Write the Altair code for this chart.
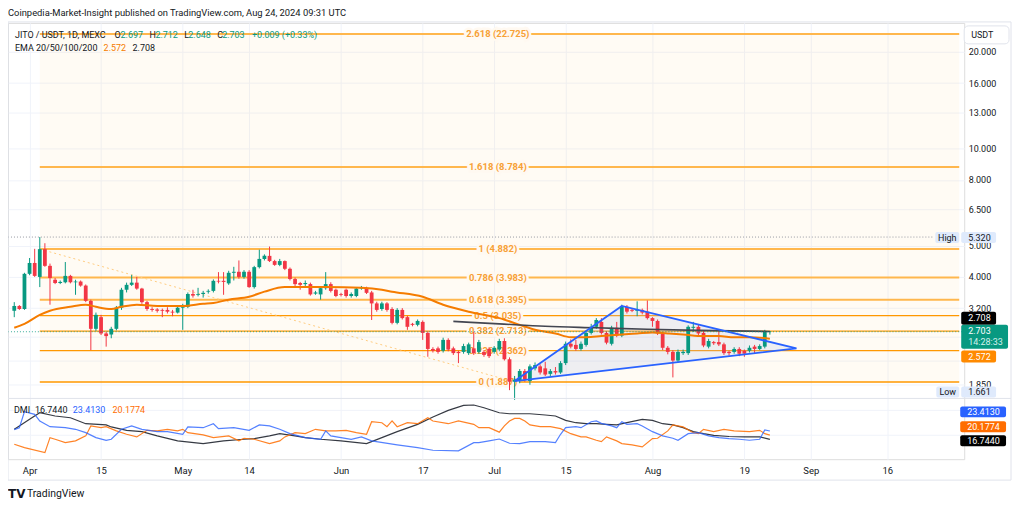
import altair as alt
import pandas as pd

# ---------------- data ----------------
START = "2024-03-29"
opens = [3.14, 3.25, 3.18, 4.09, 4.42, 4.00, 4.88, 4.33, 3.92, 3.83,
         3.85, 4.03, 3.85, 3.87, 3.76, 3.37, 2.76, 3.00, 2.67, 2.65,
         2.76, 3.21, 3.65, 3.78, 3.84, 3.68, 3.34, 3.18, 3.17, 3.16,
         3.16, 3.12, 3.10, 3.21, 3.23, 3.54, 3.52, 3.54, 3.60, 3.62,
         3.89, 3.89, 3.82, 4.12, 4.15, 4.00, 4.15, 3.72, 4.29, 4.55,
         4.65, 4.48, 4.36, 4.48, 4.24, 3.94, 3.83, 3.80, 3.80, 3.55,
         3.53, 3.69, 3.80, 3.65, 3.54, 3.65, 3.49, 3.49, 3.68, 3.70,
         3.58, 3.31, 3.18, 3.31, 3.18, 2.88, 3.16, 3.00, 2.86, 2.84,
         2.90, 2.68, 2.39, 2.40, 2.36, 2.55, 2.40, 2.34, 2.34, 2.32,
         2.40, 2.34, 2.34, 2.39, 2.34, 2.38, 2.53, 2.22, 1.89, 1.90,
         2.04, 1.90, 2.08, 2.11, 2.08, 2.00, 2.04, 2.02, 2.16, 2.48,
         2.46, 2.39, 2.46, 2.68, 2.80, 2.90, 2.68, 2.48, 2.78, 2.63,
         3.23, 3.16, 3.14, 3.16, 3.12, 2.98, 2.92, 2.67, 2.41, 2.34,
         2.20, 2.32, 2.32, 2.78, 2.80, 2.68, 2.43, 2.51, 2.51, 2.47,
         2.34, 2.34, 2.39, 2.36, 2.36, 2.43, 2.39, 2.43, 2.697]
highs = [3.34, 3.27, 4.12, 4.58, 4.89, 5.32, 5.09, 4.40, 3.97, 3.90,
         4.45, 4.06, 3.92, 3.90, 3.79, 3.40, 3.10, 3.05, 2.70, 2.80,
         3.25, 3.70, 3.84, 4.06, 4.00, 3.70, 3.37, 3.22, 3.20, 3.19,
         3.22, 3.16, 3.24, 3.30, 3.58, 3.65, 3.70, 3.62, 3.66, 3.93,
         4.14, 4.14, 4.18, 4.30, 4.50, 4.20, 4.20, 4.33, 4.86, 4.70,
         4.97, 4.52, 4.55, 4.50, 4.28, 3.98, 3.86, 3.90, 3.84, 3.62,
         3.72, 4.14, 3.85, 3.68, 3.57, 3.68, 3.58, 3.72, 3.75, 3.73,
         3.62, 3.35, 3.35, 3.34, 3.22, 3.20, 3.20, 3.03, 2.88, 2.95,
         2.93, 2.71, 2.42, 2.43, 2.59, 2.58, 2.43, 2.36, 2.48, 2.50,
         2.70, 2.55, 2.37, 2.42, 2.44, 2.57, 2.58, 2.25, 1.97, 2.07,
         2.07, 2.14, 2.17, 2.14, 2.18, 2.07, 2.10, 2.19, 2.52, 2.56,
         2.55, 2.52, 2.72, 2.86, 2.98, 2.98, 2.71, 2.82, 2.90, 3.28,
         3.27, 3.20, 3.36, 3.19, 3.38, 3.00, 2.95, 2.70, 2.44, 2.37,
         2.38, 2.38, 2.83, 2.90, 2.84, 2.72, 2.57, 2.53, 2.72, 2.50,
         2.36, 2.42, 2.42, 2.38, 2.45, 2.46, 2.47, 2.74, 2.712]
lows = [3.00, 3.16, 3.16, 4.05, 4.00, 3.72, 4.30, 3.28, 3.80, 3.80,
        3.82, 3.82, 3.52, 3.73, 3.34, 2.37, 2.72, 2.64, 2.43, 2.58,
        2.73, 3.16, 3.58, 3.75, 3.65, 3.30, 3.14, 3.12, 3.10, 3.00,
        3.08, 3.02, 3.08, 2.74, 3.20, 3.45, 3.48, 3.45, 3.55, 3.58,
        3.82, 3.52, 3.78, 3.90, 3.95, 3.95, 3.70, 3.68, 4.25, 4.50,
        4.45, 4.33, 4.32, 4.20, 3.90, 3.75, 3.65, 3.75, 3.50, 3.52,
        3.40, 3.65, 3.58, 3.46, 3.48, 3.45, 3.45, 3.46, 3.65, 3.54,
        2.94, 3.12, 3.14, 3.12, 2.85, 2.85, 2.95, 2.74, 2.81, 2.81,
        2.55, 2.26, 2.33, 2.31, 2.33, 2.35, 2.29, 2.16, 2.31, 2.29,
        2.29, 2.31, 2.26, 2.24, 2.31, 2.35, 2.20, 1.78, 1.661, 1.87,
        1.89, 1.85, 2.05, 1.99, 1.97, 1.97, 1.99, 2.00, 2.13, 2.40,
        2.36, 2.36, 2.43, 2.65, 2.76, 2.65, 2.47, 2.45, 2.60, 2.60,
        3.08, 3.11, 3.02, 3.06, 2.95, 2.80, 2.64, 2.37, 2.30, 1.95,
        2.17, 2.29, 2.29, 2.70, 2.64, 2.42, 2.40, 2.46, 2.44, 2.29,
        2.28, 2.31, 2.27, 2.26, 2.33, 2.32, 2.37, 2.40, 2.648]
closes = [3.25, 3.18, 4.09, 4.42, 4.03, 4.88, 4.33, 3.97, 3.83, 3.86,
          4.03, 3.85, 3.87, 3.76, 3.37, 2.76, 3.05, 2.67, 2.62, 2.76,
          3.21, 3.65, 3.78, 3.84, 3.68, 3.34, 3.18, 3.16, 3.14, 3.14,
          3.12, 3.10, 3.21, 3.23, 3.54, 3.50, 3.54, 3.57, 3.62, 3.89,
          3.87, 3.86, 4.12, 4.15, 4.00, 4.15, 3.72, 4.29, 4.55, 4.65,
          4.48, 4.36, 4.48, 4.24, 3.94, 3.80, 3.78, 3.83, 3.53, 3.58,
          3.69, 3.80, 3.62, 3.49, 3.52, 3.49, 3.54, 3.68, 3.70, 3.57,
          3.31, 3.16, 3.31, 3.16, 2.88, 3.16, 2.98, 2.80, 2.84, 2.92,
          2.68, 2.39, 2.36, 2.34, 2.55, 2.38, 2.32, 2.32, 2.44, 2.47,
          2.32, 2.51, 2.29, 2.27, 2.41, 2.53, 2.22, 1.89, 1.92, 2.04,
          1.92, 2.11, 2.13, 2.02, 1.99, 2.04, 2.02, 2.16, 2.48, 2.43,
          2.39, 2.48, 2.68, 2.80, 2.94, 2.68, 2.50, 2.78, 2.63, 3.25,
          3.12, 3.14, 3.16, 3.10, 2.98, 2.92, 2.67, 2.41, 2.34, 2.20,
          2.34, 2.34, 2.80, 2.80, 2.67, 2.45, 2.53, 2.49, 2.47, 2.32,
          2.32, 2.39, 2.31, 2.31, 2.41, 2.39, 2.44, 2.697, 2.703]

# EMA lines (day offset from START, price)
ema20_day = [0, 2, 5, 7, 11, 14, 16, 19, 21, 24, 28, 33, 37, 39, 42, 46, 49, 53, 55, 61,
             68, 72, 74, 80, 84, 89, 95, 99, 102, 106, 109, 112, 115, 119, 122, 125, 128,
             131, 135, 138, 141, 144, 148]
ema20_val = [2.78, 2.86, 3.05, 3.14, 3.23, 3.28, 3.23, 3.18, 3.23, 3.28, 3.25, 3.25, 3.30,
             3.32, 3.40, 3.47, 3.60, 3.72, 3.72, 3.72, 3.70, 3.65, 3.60, 3.47, 3.28, 3.12,
             2.98, 2.84, 2.74, 2.67, 2.60, 2.60, 2.62, 2.65, 2.67, 2.69, 2.67, 2.65, 2.62,
             2.62, 2.60, 2.60, 2.572]
ema50_day = [86, 95, 104, 114, 124, 134, 148]
ema50_val = [2.91, 2.86, 2.81, 2.78, 2.75, 2.73, 2.708]

# DMI
pdi_day = [0, 1, 2, 4, 5, 7, 10, 12, 14, 16, 18, 19, 21, 23, 25, 28, 30, 33, 34, 37, 39,
           40, 43, 46, 48, 50, 52, 54, 57, 60, 61, 62, 66, 68, 70, 75, 79, 82, 87, 90, 91,
           93, 95, 97, 99, 101, 104, 106, 107, 108, 110, 111, 113, 114, 115, 117, 118, 119,
           120, 122, 123, 125, 127, 129, 130, 132, 134, 136, 138, 140, 142, 144, 146, 147, 148]
pdi_val = [24.5, 26.1, 39.0, 36.8, 31.4, 26.9, 26.1, 24.8, 22.1, 18.1, 16.0, 16.8, 24.8,
           27.5, 24.8, 22.9, 22.9, 20.8, 26.7, 26.1, 29.3, 25.3, 26.1, 24.0, 28.3, 27.5,
           24.8, 21.3, 18.1, 16.8, 23.5, 19.5, 16.8, 18.7, 15.5, 12.3, 10.1, 8.0, 7.5, 14.1,
           14.1, 15.5, 17.0, 13.6, 13.3, 14.9, 14.9, 14.1, 20.8, 26.1, 26.9, 26.1, 30.9,
           31.5, 29.6, 27.5, 26.1, 30.9, 28.8, 29.3, 27.5, 22.9, 19.5, 17.6, 16.0, 21.3,
           22.1, 19.5, 18.1, 17.3, 16.8, 16.0, 16.8, 24.3, 23.413]
mdi_day = [0, 2, 6, 7, 8, 10, 12, 14, 15, 17, 18, 20, 22, 24, 26, 28, 30, 32, 33, 34, 37,
           39, 42, 44, 45, 47, 50, 52, 53, 55, 57, 59, 61, 63, 65, 67, 69, 70, 72, 73, 74,
           75, 77, 79, 81, 82, 85, 87, 90, 91, 93, 95, 96, 97, 98, 99, 100, 101, 103, 105,
           107, 109, 111, 112, 114, 115, 116, 118, 119, 121, 123, 125, 126, 128, 129, 131,
           133, 134, 135, 137, 139, 141, 144, 146, 147, 148]
mdi_val = [12.8, 10.1, 6.1, 18.1, 16.8, 14.1, 15.5, 19.5, 27.5, 26.1, 26.9, 23.5, 20.8,
           18.7, 24.0, 23.5, 24.8, 23.5, 24.8, 22.1, 20.3, 18.1, 19.5, 15.5, 17.6, 16.8,
           13.3, 15.5, 18.7, 22.1, 21.3, 24.8, 23.5, 23.5, 24.0, 22.1, 20.8, 30.9, 30.1,
           26.9, 31.5, 26.9, 30.1, 29.3, 34.1, 31.5, 29.3, 31.5, 28.8, 26.1, 26.1, 22.5,
           27.5, 31.5, 33.6, 33.6, 31.5, 28.3, 26.9, 26.9, 25.3, 21.3, 18.7, 18.7, 16.0,
           14.9, 18.7, 15.5, 13.3, 12.3, 10.7, 17.3, 17.6, 23.5, 28.3, 26.7, 22.1, 21.3,
           24.8, 22.9, 24.8, 23.5, 22.9, 24.0, 21.3, 20.1774]
adx_day = [0, 1, 3, 5, 8, 11, 14, 18, 19, 22, 25, 28, 32, 37, 41, 45, 47, 50, 52, 55, 57,
           60, 64, 69, 72, 75, 79, 82, 85, 88, 90, 92, 95, 97, 101, 104, 106, 108, 110, 112,
           114, 116, 118, 120, 123, 125, 127, 129, 131, 133, 135, 137, 140, 143, 146, 148]
adx_val = [24.8, 27.5, 32.8, 38.1, 35.5, 34.1, 29.3, 28.3, 26.7, 24.0, 22.9, 19.5, 15.5,
           13.3, 15.5, 16.8, 17.3, 19.5, 21.3, 19.5, 18.1, 16.8, 15.5, 13.3, 18.1, 22.9,
           28.8, 34.7, 40.0, 44.0, 44.3, 42.1, 38.1, 37.3, 37.3, 36.3, 35.5, 32.0, 30.1,
           29.3, 29.3, 28.8, 28.3, 30.1, 32.8, 32.0, 29.3, 28.3, 26.1, 22.9, 21.3, 20.0,
           19.0, 18.7, 18.7, 16.744]

# Fibonacci retracement
fib_text = ["2.618 (22.725)", "1.618 (8.784)", "1 (4.882)", "0.786 (3.983)",
            "0.618 (3.395)", "0.5 (3.035)", "0.382 (2.713)", "0.236 (2.362)", "0 (1.887)"]
fib_price = [22.725, 8.784, 4.882, 3.983, 3.395, 3.035, 2.713, 2.362, 1.887]
fib_strong = [False, False, False, False, False, True, True, True, True]
fib_start = "2024-04-03T00:00"
fib_end = "2024-09-30T02:00"
fib_label_at = "2024-07-01T17:00"
trend_dates = ["2024-04-03T00:00", "2024-07-05T00:00"]
trend_price = [4.882, 1.887]

# Triangle pattern
tri_dates = ["2024-07-05T00:00", "2024-07-26T00:00", "2024-08-29T05:00"]
tri_top = [1.90, 3.25, 2.40]
tri_bottom = [1.90, 2.08, 2.40]

high_price = 5.320
low_price = 1.661
last_price = 2.703

price_ticks = [1.85, 2.2, 2.6, 3.2, 4, 5, 6.5, 8, 10, 13, 16, 20]
hidden_ticks = [2.2, 2.6]  # covered by the price labels in the reference
date_ticks = [(4, 1), (4, 15), (5, 1), (5, 14), (6, 1), (6, 17), (7, 1), (7, 15),
              (8, 1), (8, 19), (9, 1), (9, 16)]

# ---------------- styling ----------------
FONT = "Roboto"
TXT = "#131722"
GREEN = "#089981"
RED = "#f23645"
GRID = "#f0f3fa"
FIBL = "#ffb74d"
FIBD = "#ff9800"
CREAM = "#fff9f1"
W, H = 960, 438

start = pd.Timestamp(START)
def days_to_dates(days):
    return [start + pd.Timedelta(days=d) for d in days]

def to_dt(s):
    return pd.to_datetime(s, format="ISO8601")

xscale = alt.Scale(domain=[alt.DateTime(year=2024, month=3, date=28, hours=18),
                           alt.DateTime(year=2024, month=9, date=30, hours=2)])
xaxis = alt.Axis(values=[alt.DateTime(year=2024, month=m, date=d) for m, d in date_ticks],
                 labelExpr="date(datum.value) == 1 ? timeFormat(datum.value, '%b') : timeFormat(datum.value, '%-d')",
                 grid=True, gridColor=GRID, domain=False, ticks=False, labelPadding=6,
                 labelFontSize=9.5, labelColor=TXT, labelFont=FONT, title=None)
hide_expr = " || ".join(f"abs(datum.value - {v}) < 0.001" for v in hidden_ticks)
yscale = alt.Scale(type="log", domain=[1.0865, 24.60], nice=False)
yaxis = alt.Axis(orient="right", values=price_ticks,
                 labelExpr=f"({hide_expr}) ? '' : format(datum.value, '.3f')",
                 grid=True, gridColor=GRID,
                 domain=False, ticks=False, labelPadding=4, labelFontSize=9,
                 labelColor=TXT, labelFont=FONT, title=None)
dscale = alt.Scale(domain=[0.8, 351.2], nice=False, zero=False)

def X(f):
    return alt.X(f, type="temporal", scale=xscale, axis=xaxis)
def Y(f):
    return alt.Y(f, type="quantitative", scale=yscale, axis=yaxis)
def YD(f):
    return alt.Y(f, type="quantitative", scale=dscale, axis=None)

# ---------------- price pane ----------------
candles = pd.DataFrame({"date": days_to_dates(range(len(opens))), "open": opens,
                        "high": highs, "low": lows, "close": closes})
candles["dir"] = ["up" if c >= o else "down" for o, c in zip(opens, closes)]
cscale = alt.Color("dir:N", scale=alt.Scale(domain=["up", "down"], range=[GREEN, RED]), legend=None)

fib = pd.DataFrame({"text": fib_text, "p": fib_price, "strong": fib_strong})
fib["x"] = to_dt(fib_start)
fib["x2"] = to_dt(fib_end)
fib["xl"] = to_dt(fib_label_at)
fib_bg = pd.DataFrame({"x": [to_dt(fib_start)], "x2": [to_dt(fib_end)],
                       "p": [min(fib_price)], "p2": [max(fib_price)]})

bg = alt.Chart(fib_bg).mark_rect(color="#ff9800", opacity=0.045).encode(
    x=X("x"), x2="x2", y=Y("p"), y2="p2")
fib_light = alt.Chart(fib[~fib["strong"]]).mark_rule(color=FIBL, strokeWidth=2).encode(
    x=X("x"), x2="x2", y=Y("p"))
fib_dark = alt.Chart(fib[fib["strong"]]).mark_rule(color=FIBD, strokeWidth=1.3).encode(
    x=X("x"), x2="x2", y=Y("p"))
fib_halo = alt.Chart(fib).mark_text(color=CREAM, stroke=CREAM, strokeWidth=5, fontSize=9.5,
                                    font=FONT, fontWeight="bold", align="center",
                                    baseline="middle").encode(
    x=X("xl"), y=Y("p"), text="text:N")
fib_lbl = alt.Chart(fib).mark_text(color="#f7a035", fontSize=9.5, font=FONT, fontWeight="bold",
                                   align="center", baseline="middle").encode(
    x=X("xl"), y=Y("p"), text="text:N")

trend = alt.Chart(pd.DataFrame({"date": to_dt(trend_dates), "p": trend_price})).mark_line(
    color="#ffcc80", strokeWidth=1, strokeDash=[2, 3]).encode(x=X("date"), y=Y("p"))

tri = pd.DataFrame({"date": to_dt(tri_dates), "top": tri_top, "bottom": tri_bottom})
tri_fill = alt.Chart(tri).mark_area(color="#b3bde8", opacity=0.22).encode(
    x=X("date"), y=Y("top"), y2="bottom")
outline = pd.DataFrame({"date": to_dt(tri_dates + [tri_dates[0]]),
                        "p": tri_top[:2] + [tri_bottom[2], tri_bottom[0]],
                        "o": [0, 1, 2, 3]})
tri_line = alt.Chart(outline).mark_line(color="#2962ff", strokeWidth=1.8).encode(
    x=X("date"), y=Y("p"), order="o:Q")

wicks = alt.Chart(candles).mark_rule(strokeWidth=1).encode(
    x=X("date"), y=Y("low"), y2="high", color=cscale)
bodies = alt.Chart(candles).mark_bar(size=3.8).encode(
    x=X("date"), y=Y("open"), y2="close", color=cscale)

ema20 = alt.Chart(pd.DataFrame({"date": days_to_dates(ema20_day), "p": ema20_val})).mark_line(
    color="#f57c00", strokeWidth=2, interpolate="monotone").encode(x=X("date"), y=Y("p"))
ema50 = alt.Chart(pd.DataFrame({"date": days_to_dates(ema50_day), "p": ema50_val})).mark_line(
    color="#434651", strokeWidth=1.6, interpolate="monotone").encode(x=X("date"), y=Y("p"))

high_line = alt.Chart(pd.DataFrame({"p": [high_price]})).mark_rule(
    color="#9598a1", strokeDash=[1, 2], strokeWidth=1).encode(
    x=alt.value(0), x2=alt.value(930), y=Y("p"))
last_line = alt.Chart(pd.DataFrame({"p": [last_price]})).mark_rule(
    color=GREEN, strokeDash=[1, 2], strokeWidth=1, opacity=0.8).encode(
    x=alt.value(0), x2=alt.value(W), y=Y("p"))

price = alt.layer(bg, fib_light, fib_dark, fib_halo, fib_lbl, trend, tri_fill, wicks, bodies,
                  ema20, ema50, tri_line, high_line, last_line)

# ---------------- DMI pane ----------------
dmi_grid = alt.Chart(pd.DataFrame({"v": [20, 40]})).mark_rule(color=GRID).encode(
    x=alt.value(0), x2=alt.value(W), y=YD("v"))
adx = alt.Chart(pd.DataFrame({"date": days_to_dates(adx_day), "v": adx_val})).mark_line(
    color="#131722", strokeWidth=1.2, opacity=0.85).encode(x=X("date"), y=YD("v"))
mdi = alt.Chart(pd.DataFrame({"date": days_to_dates(mdi_day), "v": mdi_val})).mark_line(
    color="#ff6d00", strokeWidth=1.2, opacity=0.85).encode(x=X("date"), y=YD("v"))
pdi = alt.Chart(pd.DataFrame({"date": days_to_dates(pdi_day), "v": pdi_val})).mark_line(
    color="#2962ff", strokeWidth=1.2, opacity=0.8).encode(x=X("date"), y=YD("v"))
dmi = alt.layer(dmi_grid, adx, mdi, pdi)

# ---------------- annotations ----------------
one = pd.DataFrame({"k": [0]})

def txt(s, x, y, color=TXT, size=9, align="left", weight="normal", font=FONT):
    return alt.Chart(one).mark_text(text=s, align=align, baseline="middle", fontSize=size,
                                    font=font, color=color, fontWeight=weight).encode(
        x=alt.value(x), y=alt.value(y))

def box(x0, x1, y0, y1, fill, radius=2, stroke=None):
    kw = dict(color=fill, cornerRadius=radius)
    if stroke:
        kw.update(stroke=stroke, strokeWidth=1)
    return alt.Chart(one).mark_rect(**kw).encode(
        x=alt.value(x0), x2=alt.value(x1), y=alt.value(y0), y2=alt.value(y1))

frame = alt.Chart(one).mark_rect(fillOpacity=0, stroke="#e0e3eb", strokeWidth=1).encode(
    x=alt.value(0), x2=alt.value(1007), y=alt.value(-1), y2=alt.value(459))
sep = alt.Chart(one).mark_rule(color="#e0e3eb", strokeWidth=1).encode(
    x=alt.value(0), x2=alt.value(1007), y=alt.value(377))

ann = [
    frame, sep,
    txt("Coinpedia-Market-Insight published on TradingView.com, Aug 24, 2024 09:31 UTC", 0, -10, size=9.4),
    txt("JITO / USDT, 1D, MEXC", 7, 12),
    txt("O", 107, 12), txt("2.697", 113, 12, GREEN),
    txt("H", 142, 12), txt("2.712", 148, 12, GREEN),
    txt("L", 177, 12), txt("2.648", 181, 12, GREEN),
    txt("C", 210, 12), txt("2.703", 215, 12, GREEN),
    txt("+0.009 (+0.33%)", 245, 12, GREEN),
    txt("EMA 20/50/100/200", 7, 25),
    txt("2.572", 96, 25, "#f57c00"), txt("2.708", 125, 25),
    txt("DMI", 6, 389), txt("16.7440", 27, 389),
    txt("23.4130", 65, 389, "#2962ff"), txt("20.1774", 105, 389, "#ff6d00"),
    box(960, 1005, 3, 21, "#ffffff", radius=4, stroke="#e0e3eb"),
    txt("USDT", 967, 12, size=9),
    box(931, 955, 210, 221, "#dfeafc"), txt("High", 943, 215.5, align="center"),
    box(957, 992, 210, 221, "#dfeafc"), txt("5.320", 964, 215.5),
    box(932, 955, 365, 376, "#dfeafc"), txt("Low", 943.5, 370.5, align="center"),
    box(957, 992, 365, 376, "#dfeafc"), txt("1.661", 964, 370.5),
    box(957, 992, 290, 303, "#000000"), txt("2.708", 964, 296.5, "#ffffff"),
    box(957, 1004, 303, 327, GREEN), txt("2.703", 964, 309.5, "#ffffff"),
    txt("14:28:33", 964, 320.5, "#d4f1ec"),
    box(957, 992, 329, 341, "#ff8a00"), txt("2.572", 964, 335, "#ffffff"),
    box(956, 1002, 385, 396, "#2962ff"), txt("23.4130", 963, 390.5, "#ffffff"),
    box(956, 1002, 400, 411, "#ff6d00"), txt("20.1774", 963, 405.5, "#ffffff"),
    box(956, 1002, 414, 425, "#000000"), txt("16.7440", 963, 419.5, "#ffffff"),
    txt("TV", 0, 473, size=12, weight=900, font="DejaVu Sans"),
    txt("TradingView", 19, 473, size=10.5),
]
annotations = alt.layer(*ann)

chart = alt.layer(price, dmi, annotations).resolve_scale(y="independent").properties(
    width=W, height=H,
    autosize=alt.AutoSizeParams(type="none"),
    padding={"left": 0, "top": 14, "right": 52, "bottom": 41},
).configure_view(strokeWidth=0).configure(background="#ffffff")

chart.save("out.html", embed_options={"renderer": "svg", "actions": False})
